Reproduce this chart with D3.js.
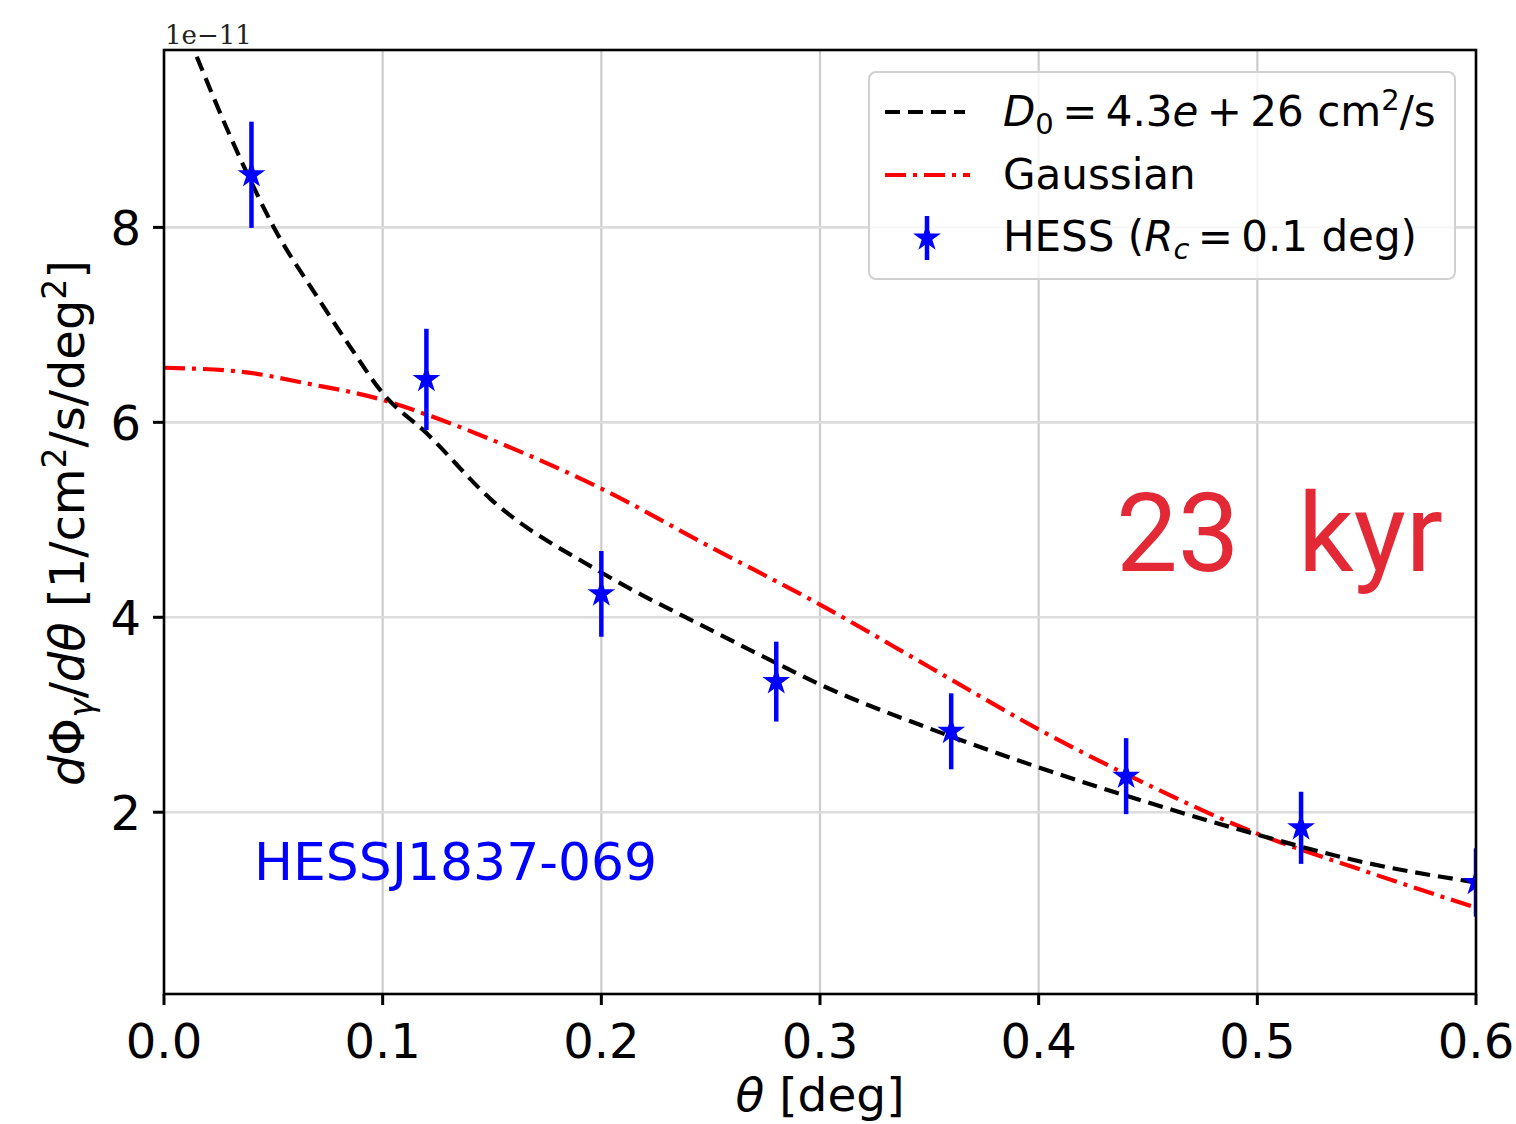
<!DOCTYPE html>
<html><head><meta charset="utf-8">
<script src="https://cdn.jsdelivr.net/npm/d3@7"></script>
<style>
html,body{margin:0;padding:0;background:#fff;}
svg{display:block;}
</style></head>
<body>
<script>
// ---- data (flux in units of 1e-11 1/cm^2/s/deg^2) ----
const xTicks = [0.0, 0.1, 0.2, 0.3, 0.4, 0.5, 0.6];
const yTicks = [2, 4, 6, 8];
const xTickLabels = ["0.0","0.1","0.2","0.3","0.4","0.5","0.6"];
const yTickLabels = ["2","4","6","8"];

const hessTheta = [0.04, 0.12, 0.20, 0.28, 0.36, 0.44, 0.52, 0.60];
const hessFlux  = [8.54, 6.44, 4.24, 3.34, 2.83, 2.37, 1.84, 1.28];
const hessErr   = [0.545, 0.52, 0.44, 0.41, 0.39, 0.39, 0.37, 0.35];

const diffTheta = [0.015, 0.03, 0.04, 0.05, 0.07, 0.085, 0.10, 0.12, 0.15, 0.20, 0.25, 0.28, 0.30, 0.35, 0.40, 0.45, 0.50, 0.55, 0.60];
const diffFlux  = [9.75, 8.95, 8.46, 8.01, 7.29, 6.78, 6.30, 5.89, 5.20, 4.46, 3.87, 3.53, 3.31, 2.86, 2.46, 2.10, 1.77, 1.48, 1.28];

const gaussTheta = [0.0, 0.035, 0.065, 0.10, 0.12, 0.15, 0.20, 0.25, 0.30, 0.35, 0.40, 0.44, 0.50, 0.55, 0.60];
const gaussFlux  = [6.56, 6.52, 6.40, 6.23, 6.08, 5.82, 5.32, 4.72, 4.13, 3.49, 2.85, 2.39, 1.78, 1.39, 1.02];

// ---- layout ----
const W = 1516, H = 1124;
const L = 164, R = 1476, T = 50, B = 994;
const svg = d3.select("body").append("svg").attr("width", W).attr("height", H);

const x = d3.scaleLinear().domain([0, 0.6]).range([L, R]);
const y = d3.scaleLinear().domain([0.135, 9.82]).range([B, T]);

const FONT = "'DejaVu Sans', sans-serif";
const FS = 48;

// clip
svg.append("defs").append("clipPath").attr("id","clip")
  .append("rect").attr("x",L).attr("y",T).attr("width",R-L).attr("height",B-T);

// grid
const grid = svg.append("g");
grid.selectAll("line.vx").data(xTicks).enter().append("line")
  .attr("x1",d=>x(d)).attr("x2",d=>x(d)).attr("y1",T).attr("y2",B)
  .attr("stroke","#cccccc").attr("stroke-width",2.2);
grid.selectAll("line.hy").data(yTicks).enter().append("line")
  .attr("x1",L).attr("x2",R).attr("y1",d=>y(d)).attr("y2",d=>y(d))
  .attr("stroke","#dcdcdc").attr("stroke-width",2.6);

const plot = svg.append("g").attr("clip-path","url(#clip)");

// Gaussian line
const lineG = d3.line().x((d,i)=>x(gaussTheta[i])).y(d=>y(d)).curve(d3.curveMonotoneX);
plot.append("path").attr("d", lineG(gaussFlux))
  .attr("fill","none").attr("stroke","#ff0000").attr("stroke-width",4.2)
  .attr("stroke-dasharray","21,7,4,7");

// diffusion line
const lineD = d3.line().x((d,i)=>x(diffTheta[i])).y(d=>y(d)).curve(d3.curveMonotoneX);
plot.append("path").attr("d", lineD(diffFlux))
  .attr("fill","none").attr("stroke","#000").attr("stroke-width",4.2)
  .attr("stroke-dasharray","15,8");

// HESS points
const pts = plot.append("g");
hessTheta.forEach((t,i)=>{
  pts.append("line").attr("x1",x(t)).attr("x2",x(t))
    .attr("y1",y(hessFlux[i]-hessErr[i])).attr("y2",y(hessFlux[i]+hessErr[i]))
    .attr("stroke","#0000ff").attr("stroke-width",4.5);
  pts.append("path").attr("d", d3.symbol().type(d3.symbolStar).size(240)())
    .attr("transform",`translate(${x(t)},${y(hessFlux[i])})`)
    .attr("fill","#0000ff");
});

// spines
svg.append("rect").attr("x",L).attr("y",T).attr("width",R-L).attr("height",B-T)
  .attr("fill","none").attr("stroke","#000").attr("stroke-width",2.6);

// ticks
const ax = svg.append("g");
xTicks.forEach((t,i)=>{
  ax.append("line").attr("x1",x(t)).attr("x2",x(t)).attr("y1",B).attr("y2",B+11)
    .attr("stroke","#000").attr("stroke-width",3);
  ax.append("text").attr("x",x(t)).attr("y",1058).attr("text-anchor","middle")
    .attr("font-family",FONT).attr("font-size",FS).text(xTickLabels[i]);
});
yTicks.forEach((t,i)=>{
  ax.append("line").attr("x1",L-11).attr("x2",L).attr("y1",y(t)).attr("y2",y(t))
    .attr("stroke","#000").attr("stroke-width",3);
  ax.append("text").attr("x",141).attr("y",y(t)+17.5).attr("text-anchor","end")
    .attr("font-family",FONT).attr("font-size",FS).text(yTickLabels[i]);
});

// offset text
svg.append("text").attr("x",165).attr("y",44).attr("font-family","'DejaVu Serif', serif")
  .attr("font-size",26).attr("fill","#222").text("1e\u221211");

// x label
const xl = svg.append("text").attr("x",820).attr("y",1111).attr("text-anchor","middle")
  .attr("font-family",FONT).attr("font-size",47);
xl.append("tspan").attr("font-style","italic").text("\u03b8");
xl.append("tspan").text(" [deg]");

// y label
const SS = 33;
const yl = svg.append("text").attr("transform","translate(84,523) rotate(-90)")
  .attr("text-anchor","middle").attr("font-family",FONT).attr("font-size",FS);
yl.append("tspan").attr("font-style","italic").text("d");
yl.append("tspan").text("\u03a6");
yl.append("tspan").attr("font-style","italic").attr("font-size",SS).attr("dy",9).text("\u03b3");
yl.append("tspan").attr("dy",-9).text("/");
yl.append("tspan").attr("font-style","italic").text("d\u03b8");
yl.append("tspan").text(" [1/cm");
yl.append("tspan").attr("font-size",SS).attr("dy",-18).text("2");
yl.append("tspan").attr("dy",18).text("/s/deg");
yl.append("tspan").attr("font-size",SS).attr("dy",-18).text("2");
yl.append("tspan").attr("dy",18).text("]");

// legend
const LF = 42, LS = 29;
const lg = svg.append("g");
lg.append("rect").attr("x",869).attr("y",72).attr("width",586).attr("height",207)
  .attr("rx",7).attr("fill","#fff").attr("fill-opacity",0.8)
  .attr("stroke","#d0d0d0").attr("stroke-width",2);
lg.append("line").attr("x1",885).attr("x2",965).attr("y1",112).attr("y2",112)
  .attr("stroke","#000").attr("stroke-width",4.2).attr("stroke-dasharray","15,8");
lg.append("line").attr("x1",885).attr("x2",970).attr("y1",175).attr("y2",175)
  .attr("stroke","#ff0000").attr("stroke-width",4.2).attr("stroke-dasharray","21,7,4,7");
lg.append("line").attr("x1",927).attr("x2",927).attr("y1",216).attr("y2",260)
  .attr("stroke","#0000ff").attr("stroke-width",4.5);
lg.append("path").attr("d", d3.symbol().type(d3.symbolStar).size(240)())
  .attr("transform","translate(927,238)").attr("fill","#0000ff");

const t1 = lg.append("text").attr("x",1003).attr("y",126).attr("font-family",FONT).attr("font-size",LF);
t1.append("tspan").attr("font-style","italic").text("D");
t1.append("tspan").attr("font-size",LS).attr("dy",8).text("0");
t1.append("tspan").attr("dy",-8).text("\u2009=\u20094.3");
t1.append("tspan").attr("font-style","italic").text("e");
t1.append("tspan").text("\u2009+\u200926 cm");
t1.append("tspan").attr("font-size",LS).attr("dy",-16).text("2");
t1.append("tspan").attr("dy",16).text("/s");

lg.append("text").attr("x",1003).attr("y",189).attr("font-family",FONT).attr("font-size",LF).text("Gaussian");

const t3 = lg.append("text").attr("x",1003).attr("y",251).attr("font-family",FONT).attr("font-size",LF);
t3.append("tspan").text("HESS (");
t3.append("tspan").attr("font-style","italic").text("R");
t3.append("tspan").attr("font-style","italic").attr("font-size",LS).attr("dy",8).text("c");
t3.append("tspan").attr("dy",-8).text("\u2009=\u20090.1 deg)");

// annotations
svg.append("text").attr("x",254).attr("y",880).attr("font-family",FONT).attr("font-size",52)
  .attr("textLength",403).attr("lengthAdjust","spacingAndGlyphs")
  .attr("fill","#0000ff").text("HESSJ1837-069");
svg.append("text").attr("x",1116).attr("y",571).attr("font-family","Roboto, 'Liberation Sans', sans-serif")
  .attr("font-size",110).attr("fill","#e32936").text("23");
svg.append("text").attr("x",1298).attr("y",571).attr("font-family","Roboto, 'Liberation Sans', sans-serif")
  .attr("font-size",110).attr("fill","#e32936").text("kyr");
</script>
</body></html>
